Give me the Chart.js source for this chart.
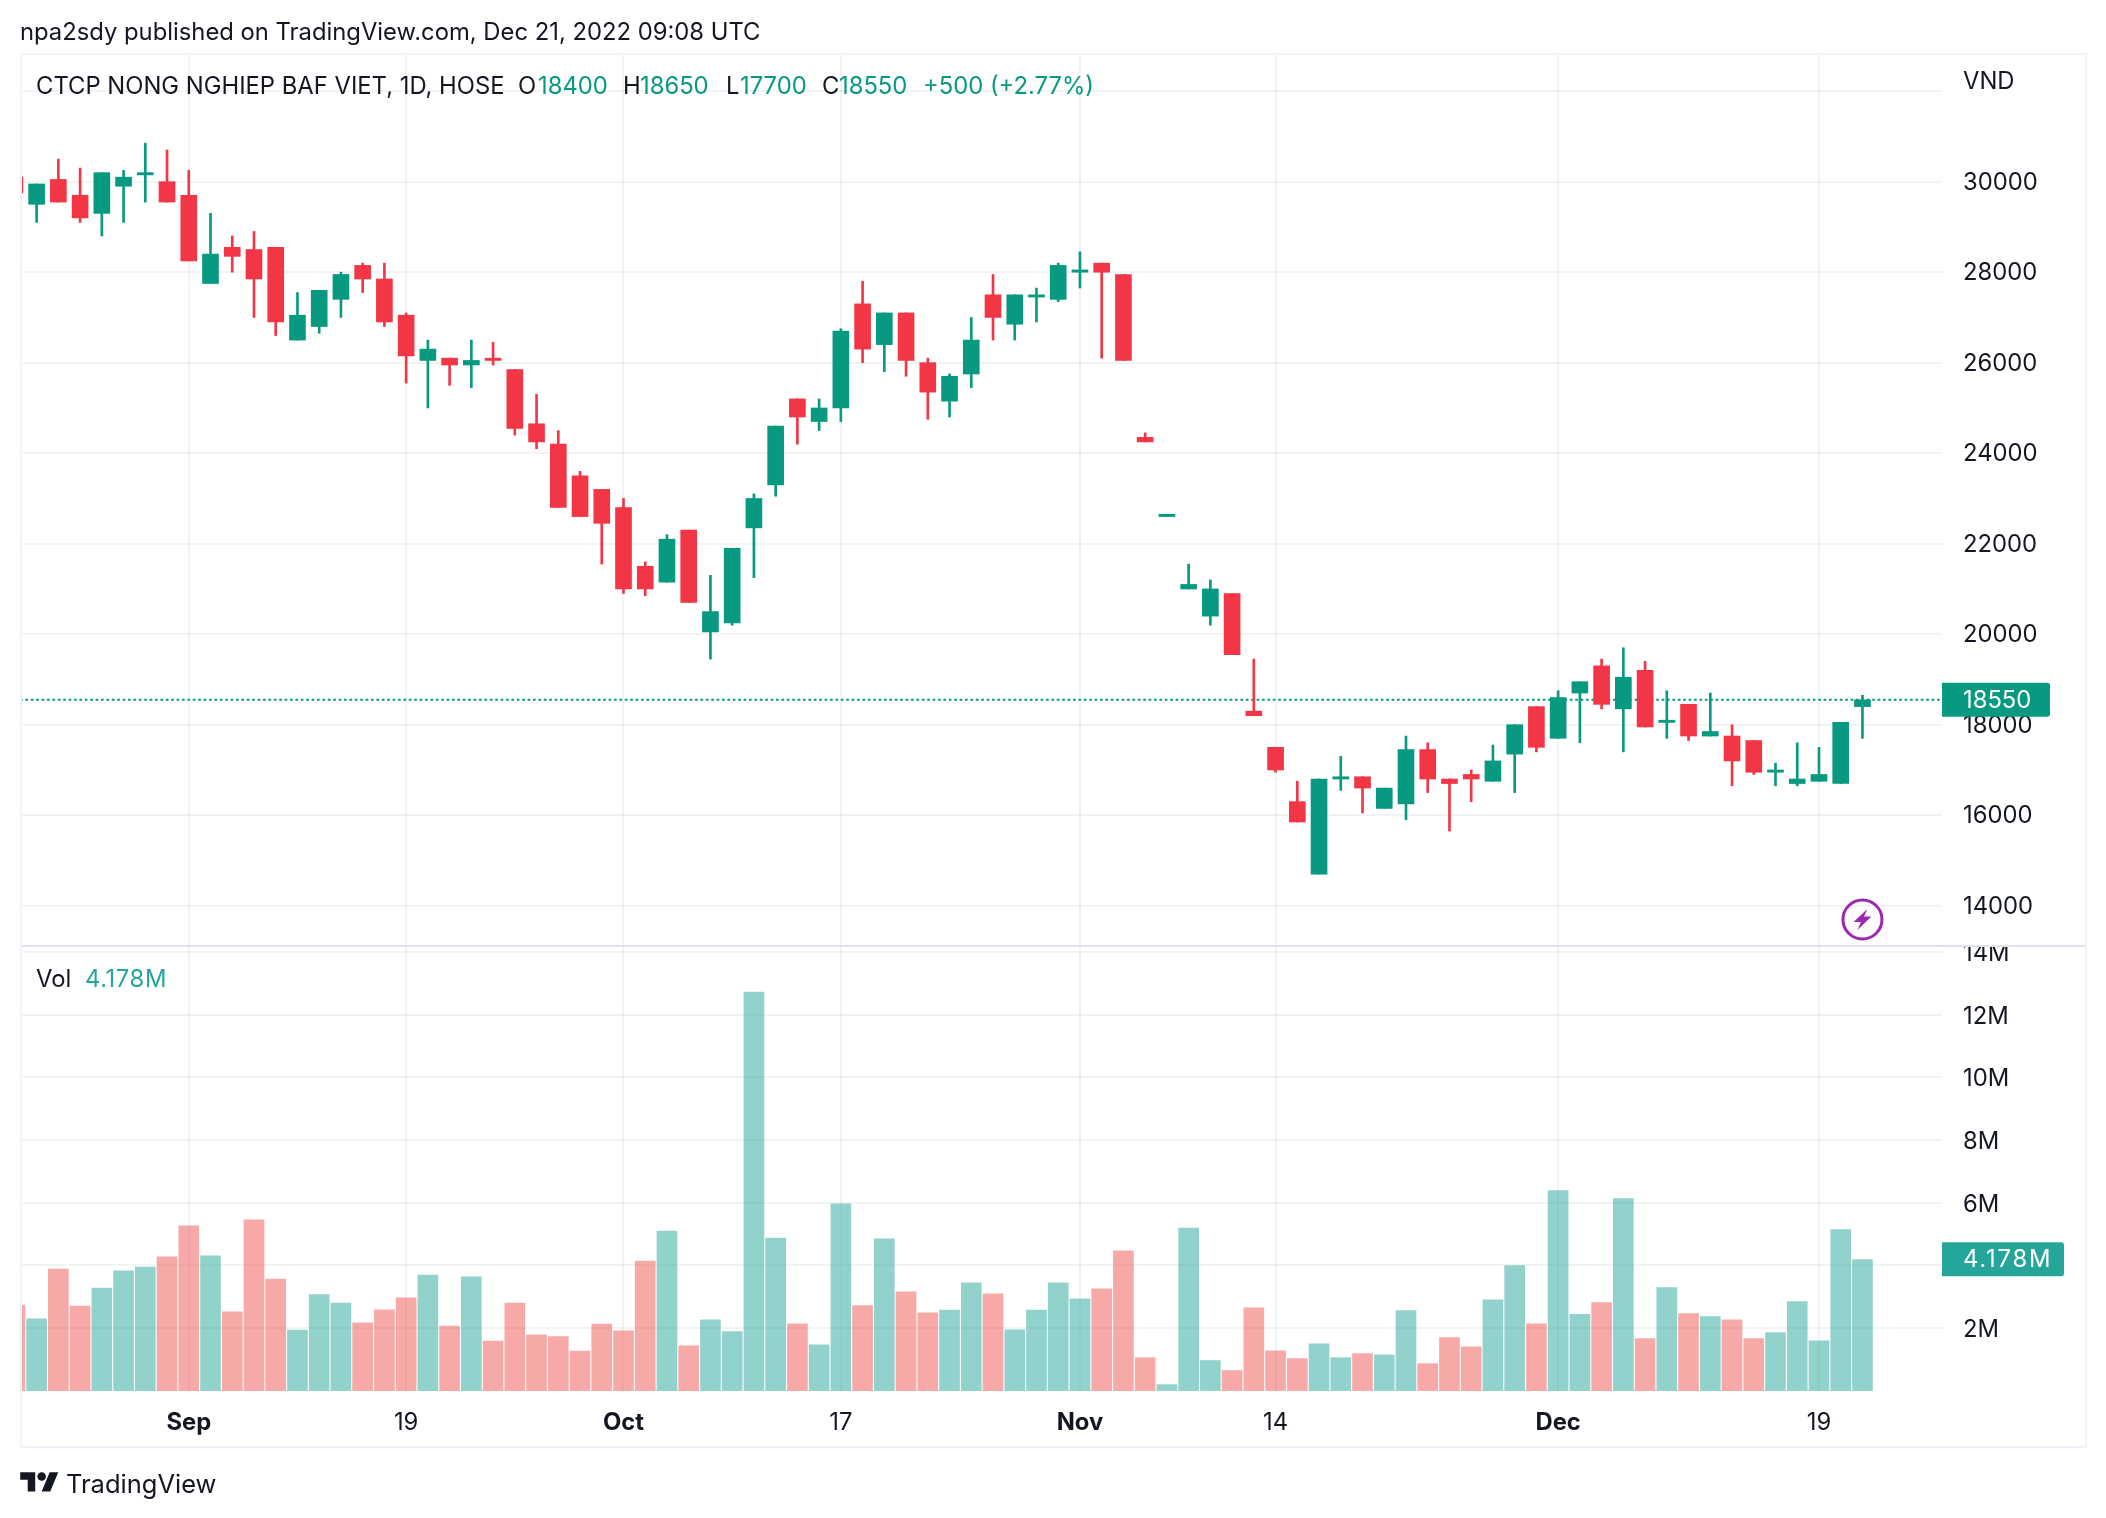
<!DOCTYPE html>
<html>
<head>
<meta charset="utf-8">
<title>CTCP NONG NGHIEP BAF VIET</title>
<script src="https://cdn.jsdelivr.net/npm/chart.js@4"></script>
<style>
html,body{margin:0;padding:0;background:#fff;width:2106px;height:1518px;overflow:hidden}
body{font-family:Inter,"Noto Sans",sans-serif;color:#131722;position:relative}
canvas{position:absolute;left:0;top:0}
.t{position:absolute;white-space:nowrap;font-size:23.8px;line-height:28px;z-index:2}
.g{color:#089981}.v{color:#26a69a}
#logo{position:absolute;left:20px;top:1468px;z-index:2}
</style>
</head>
<body>
<canvas id="c" width="2106" height="1518"></canvas>
<div class="t" style="left:20px;top:18px">npa2sdy published on TradingView.com, Dec 21, 2022 09:08 UTC</div>
<div class="t" style="left:36px;top:72px">CTCP NONG NGHIEP BAF VIET, 1D, HOSE</div>
<div class="t" style="left:518px;top:72px">O</div><div class="t g" style="left:538px;top:72px">18400</div>
<div class="t" style="left:623px;top:72px">H</div><div class="t g" style="left:640px;top:72px">18650</div>
<div class="t" style="left:726px;top:72px">L</div><div class="t g" style="left:740px;top:72px">17700</div>
<div class="t" style="left:822px;top:72px">C</div><div class="t g" style="left:839px;top:72px">18550</div>
<div class="t g" style="left:923px;top:72px">+500 (+2.77%)</div>
<div class="t" style="left:1963px;top:67px">VND</div>
<div class="t" style="left:36px;top:965px">Vol</div>
<div class="t v" style="left:85px;top:965px;letter-spacing:.6px">4.178M</div>
<svg id="logo" width="39" height="30" viewBox="0 0 36 28"><path fill="#131722" d="M14 22H7V11H0V4h14v18zM28 22h-8l7.5-18h8L28 22z"/><circle fill="#131722" cx="20" cy="8" r="4"/></svg>
<div class="t" style="left:66px;top:1470px;font-size:25.5px">TradingView</div>
<script>
const opens = [30100,29500,30050,29700,29300,29900,30150,30000,29700,27750,28550,28500,28550,26500,26800,27400,28150,27850,27050,26050,26100,25950,26100,25850,24650,24200,23500,23200,22800,21500,21150,22300,20050,20250,22350,23300,25200,24700,25000,27300,26400,27100,26000,25150,25750,27500,26850,27450,27400,28000,28200,27950,24350,22600,21000,20400,20900,18300,17500,16300,14700,16800,16850,16150,16250,17450,16800,16900,16750,17350,18400,17700,18700,19300,18350,19200,18050,18450,17750,17750,17650,16950,16700,16750,16700,18400];
const highs = [30100,29950,30500,30300,30200,30250,30850,30700,30250,29300,28800,28900,28550,27550,27600,28000,28200,28200,27100,26500,26100,26500,26450,25850,25300,24500,23600,23200,23000,21600,22200,22300,21300,21900,23100,24600,25200,25200,26750,27800,27100,27100,26100,25750,27000,27950,27500,27650,28200,28450,28200,27950,24450,22650,21550,21200,20900,19450,17500,16750,16800,17300,16850,16600,17750,17600,16800,17000,17550,18000,18400,18750,18950,19450,19700,19400,18750,18450,18700,18000,17650,17150,17600,17500,18050,18650];
const lows = [29750,29100,29550,29100,28800,29100,29550,29550,28250,27750,28000,27000,26600,26500,26650,27000,27550,26800,25550,25000,25500,25450,25950,24400,24100,22800,22600,21550,20900,20850,21150,20700,19450,20200,21250,23050,24200,24500,24700,26000,25800,25700,24750,24800,25450,26500,26500,26900,27350,27650,26100,26050,24250,22600,21000,20200,19550,18200,16950,15850,14700,16550,16050,16150,15900,16500,15650,16300,16750,16500,17400,17700,17600,18350,17400,17950,17700,17650,17750,16650,16900,16650,16650,16750,16700,17700];
const closes = [29750,29950,29550,29200,30200,30100,30200,29550,28250,28400,28350,27850,26900,27050,27600,27950,27850,26900,26150,26300,25950,26050,26050,24550,24250,22800,22600,22450,21000,21000,22100,20700,20500,21900,23000,24600,24800,25000,26700,26300,27100,26050,25350,25700,26500,27000,27500,27500,28150,28050,28000,26050,24250,22650,21100,21000,19550,18200,17000,15850,16800,16850,16600,16600,17450,16800,16700,16800,17200,18000,17500,18600,18950,18450,19050,17950,18100,17750,17850,17200,16950,17000,16800,16900,18050,18550];
const volumes = [2.73,2.29,3.88,2.70,3.27,3.82,3.94,4.27,5.26,4.30,2.51,5.45,3.56,1.93,3.06,2.79,2.16,2.58,2.96,3.69,2.06,3.63,1.58,2.79,1.78,1.72,1.26,2.12,1.91,4.13,5.09,1.43,2.26,1.88,12.72,4.87,2.13,1.46,5.96,2.71,4.84,3.15,2.48,2.57,3.44,3.09,1.94,2.57,3.44,2.93,3.25,4.46,1.05,0.19,5.19,0.96,0.64,2.64,1.27,1.02,1.49,1.05,1.18,1.14,2.55,0.86,1.69,1.40,2.90,3.99,2.13,6.38,2.43,2.81,6.13,1.66,3.29,2.46,2.36,2.26,1.66,1.85,2.84,1.59,5.14,4.178];
const timeTickIndex = [8,18,28,38,49,58,71,83];
const timeTickLabels = ['Sep','19','Oct','17','Nov','14','Dec','19'];
const boldTimeLabels = ['Sep','Oct','Nov','Dec'];
const priceTicks = [14000,16000,18000,20000,22000,24000,26000,28000,30000,32000];
const hiddenPriceLabels = [32000];
const volumeTicks = [2,4,6,8,10,12,14];

const UP='#089981', DOWN='#F23645', VUP='rgba(38,166,154,0.5)', VDOWN='rgba(239,83,80,0.5)';
const GRID='rgba(42,46,57,0.06)', TXT='#131722', FONT='Inter', FS=23.8;
const up = i => closes[i] >= opens[i];
const X_MIN=0.235, X_MAX=88.66;

const frame = {
  id:'frame',
  afterDraw(chart){
    const {ctx,scales}=chart, yP=scales.yPrice, yV=scales.yVol, x=scales.x;
    ctx.save();
    // white cover clipping the top of the first volume label
    ctx.fillStyle='#fff'; ctx.fillRect(1943,925,142,20);
    // pane separator
    ctx.fillStyle='#e0e3eb'; ctx.fillRect(20,945,2066,2);
    // frame
    ctx.strokeStyle='#f0f3fa'; ctx.lineWidth=2; ctx.strokeRect(21,54,2065,1393);
    // last price label
    const last=closes.length-1;
    const py=yP.getPixelForValue(closes[last]);
    ctx.fillStyle=UP; ctx.beginPath(); ctx.roundRect(1942,py-17,108,34,[0,3,3,0]); ctx.fill();
    ctx.fillStyle='#fff'; ctx.font=FS+'px '+FONT; ctx.textAlign='left'; ctx.textBaseline='middle';
    ctx.fillText(String(closes[last]),1963,py+1);
    // last volume label
    const vy=yV.getPixelForValue(volumes[last]);
    ctx.fillStyle='#26a69a'; ctx.beginPath(); ctx.roundRect(1942,vy-17.5,122,34,[0,3,3,0]); ctx.fill();
    ctx.fillStyle='#fff';
    ctx.letterSpacing='1.8px';
    ctx.fillText(volumes[last]+'M',1963,vy);
    ctx.letterSpacing='0px';
    // lightning marker
    const cx=x.getPixelForValue(last), cy=919.5;
    ctx.strokeStyle='#9c27b0'; ctx.lineWidth=3; ctx.beginPath(); ctx.arc(cx,cy,19.5,0,Math.PI*2); ctx.stroke();
    ctx.fillStyle='#9c27b0'; ctx.beginPath();
    [[5,-10.5],[-9,2.5],[-1.5,2.5],[-5,10.5],[9,-3],[1.5,-3]].forEach((p,i)=>i?ctx.lineTo(cx+p[0],cy+p[1]):ctx.moveTo(cx+p[0],cy+p[1]));
    ctx.closePath(); ctx.fill();
    ctx.restore();
  }
};

new Chart(document.getElementById('c'),{
  type:'bar',
  plugins:[frame],
  data:{datasets:[
    {type:'line',label:'Last',yAxisID:'yPrice',data:[{x:X_MIN,y:closes[closes.length-1]},{x:X_MAX,y:closes[closes.length-1]}],
     borderColor:UP,borderWidth:2,borderDash:[2.7,2.7],pointRadius:0,order:3},
    {label:'Wick',yAxisID:'yPrice',grouped:false,barThickness:2,order:2,
     data:highs.map((h,i)=>({x:i,y:[lows[i],h]})),
     backgroundColor:c=>up(c.dataIndex)?UP:DOWN},
    {label:'Body',yAxisID:'yPrice',grouped:false,barThickness:16,order:1,
     data:opens.map((o,i)=>({x:i,y:[o,closes[i]]})),
     backgroundColor:c=>up(c.dataIndex)?UP:DOWN},
    {label:'Vol',yAxisID:'yVol',grouped:false,barThickness:20,order:4,
     data:volumes.map((v,i)=>({x:i,y:v})),
     backgroundColor:c=>up(c.dataIndex)?VUP:VDOWN}
  ]},
  options:{
    responsive:false,animation:false,events:[],
    layout:{padding:{left:20,top:53,right:20,bottom:70}},
    plugins:{legend:{display:false},tooltip:{enabled:false},title:{display:false}},
    scales:{
      x:{type:'linear',position:'bottom',min:X_MIN,max:X_MAX,offset:false,
        grid:{color:GRID,lineWidth:2,drawTicks:false,offset:false},border:{display:false},
        afterFit(s){s.height=56},
        afterBuildTicks(s){s.ticks=timeTickIndex.map(v=>({value:v}))},
        ticks:{autoSkip:false,maxRotation:0,minRotation:0,padding:16.5,color:TXT,
          callback:v=>timeTickLabels[timeTickIndex.indexOf(v)],
          font:c=>({family:FONT,size:FS,weight:boldTimeLabels.includes(c.tick&&c.tick.label)?'700':'400'})}
      },
      yPrice:{type:'linear',position:'right',stack:'panes',stackWeight:892,min:13132,max:32844,
        grid:{color:GRID,lineWidth:2,drawTicks:false},border:{display:false},
        afterFit(s){s.width=144},
        afterBuildTicks(s){s.ticks=priceTicks.map(v=>({value:v}))},
        ticks:{padding:21,crossAlign:'near',labelOffset:1,color:TXT,font:{family:FONT,size:FS},
          callback:v=>hiddenPriceLabels.includes(v)?'':String(v)}
      },
      yVol:{type:'linear',position:'right',stack:'panes',stackWeight:447,min:-0.045,max:14.22,
        grid:{color:GRID,lineWidth:2,drawTicks:false},border:{display:false},
        afterFit(s){s.width=144},
        afterBuildTicks(s){s.ticks=volumeTicks.map(v=>({value:v}))},
        ticks:{padding:21,crossAlign:'near',labelOffset:2,color:TXT,font:{family:FONT,size:FS},
          callback:v=>v+'M'}
      }
    }
  }
});
</script>
</body>
</html>
